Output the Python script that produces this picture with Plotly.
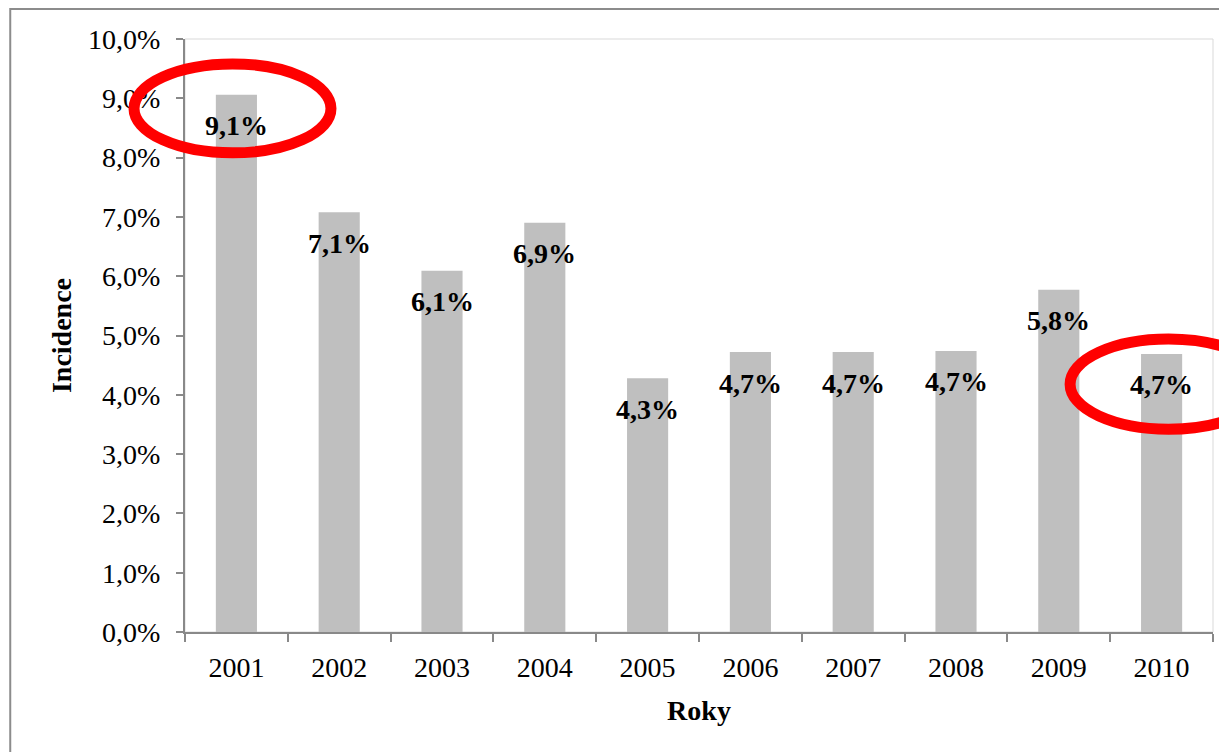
import plotly.graph_objects as go

years = ["2001", "2002", "2003", "2004", "2005", "2006", "2007", "2008", "2009", "2010"]
incidence = [0.0906, 0.0708, 0.0609, 0.0690, 0.0428, 0.0472, 0.0472, 0.0474, 0.0577, 0.0469]
y_ticks = [i / 100 for i in range(0, 11)]

FONT = "Liberation Serif, Times New Roman, serif"
AXIS = "#898989"

def fmt(v):
    return f"{v*100:.1f}".replace(".", ",") + "%"

fig = go.Figure()
fig.add_trace(go.Bar(x=years, y=incidence, marker=dict(color="#BFBFBF", line=dict(width=0)),
                     hoverinfo="x+y"))

annotations = []
for i, v in enumerate(incidence):
    annotations.append(dict(x=i, y=v, xref="x", yref="y", text=f"<b>{fmt(v)}</b>",
                            showarrow=False, yshift=-31, yanchor="middle",
                            font=dict(family=FONT, size=28, color="black")))

shapes = [
    # plot area border (light)
    dict(type="rect", xref="paper", yref="paper", x0=0, x1=1, y0=0, y1=1,
         line=dict(color="#D9D9D9", width=1), layer="below"),
    # outer chart border
    dict(type="rect", xref="paper", yref="paper", x0=-0.170, x1=1.06, y0=-0.3, y1=1.0506,
         line=dict(color="#8C8C8C", width=2)),
    # red ellipses
    dict(type="circle", xref="paper", yref="paper", x0=-0.0496, x1=0.142, y0=0.808, y1=0.958,
         line=dict(color="#FF0000", width=11)),
    dict(type="circle", xref="paper", yref="paper", x0=0.861, x1=1.0525, y0=0.342, y1=0.494,
         line=dict(color="#FF0000", width=11)),
]

fig.update_layout(
    width=1219, height=744,
    margin=dict(l=177, r=14, t=31, b=120, autoexpand=False),
    paper_bgcolor="white", plot_bgcolor="white",
    separators=", ",
    bargap=0.6,
    showlegend=False,
    font=dict(family=FONT, size=28, color="black"),
    annotations=annotations,
    shapes=shapes,
    xaxis=dict(
        type="category", range=[-0.5, 9.5], showgrid=False, showline=True, linecolor=AXIS, linewidth=2,
        ticks="outside", tickson="boundaries", ticklen=8, tickcolor=AXIS, tickwidth=2,
        tickangle=0, ticklabelstandoff=9,
        tickfont=dict(family=FONT, size=28, color="black"),
        title=dict(text="<b>Roky</b>", font=dict(family=FONT, size=28, color="black"), standoff=19),
        automargin=False,
    ),
    yaxis=dict(
        range=[0, 0.1], tickvals=y_ticks, tickformat=".1%", showgrid=False,
        showline=True, linecolor=AXIS, linewidth=2, zeroline=False,
        ticks="outside", ticklen=7, tickcolor=AXIS, tickwidth=2, ticklabelstandoff=10,
        tickfont=dict(family=FONT, size=28, color="black"),
        title=dict(text="<b>Incidence</b>", font=dict(family=FONT, size=28, color="black"), standoff=8),
        automargin=False,
    ),
)

fig.write_html("out.html")
